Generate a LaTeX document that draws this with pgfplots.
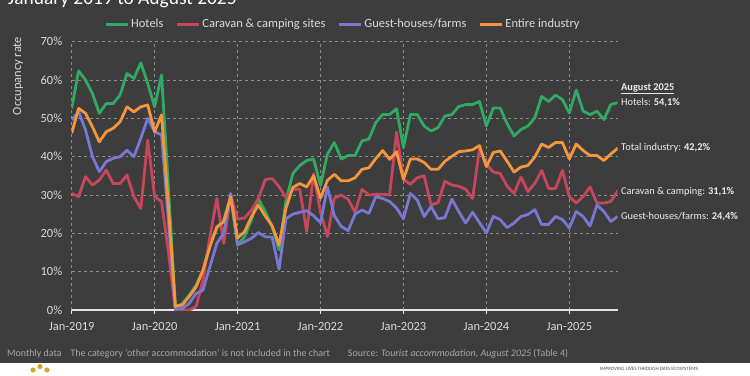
\documentclass[border=0pt]{standalone}
\usepackage{fontspec}
\setmainfont{Carlito}
\usepackage{pgfplots}
\pgfplotsset{compat=1.18}
\usepackage{pgfplotstable}
\definecolor{bg}{HTML}{3D3D3D}
\definecolor{cgreen}{HTML}{2EAA62}
\definecolor{cred}{HTML}{C8465A}
\definecolor{cpurple}{HTML}{7878D2}
\definecolor{corange}{HTML}{F5963C}
\definecolor{txt}{HTML}{D9D9D9}
\definecolor{gridc}{HTML}{8C8C8C}
\definecolor{foot}{HTML}{A6A6A6}
\definecolor{gold}{HTML}{D4A72C}

\pgfplotstableread{
m hot car gue ent
0 52.6 30.4 49.6 46.1
1 62.4 29.6 51.7 52.6
2 60.0 34.8 47.0 51.3
3 56.5 32.6 40.0 47.8
4 51.3 33.9 36.1 43.9
5 53.9 36.5 38.7 46.5
6 53.9 33.0 39.6 47.4
7 56.1 33.0 40.0 49.1
8 61.7 35.2 41.7 53.0
9 60.4 29.6 40.0 51.7
10 64.5 26.5 44.8 53.0
11 59.1 44.3 50.0 53.5
12 53.0 29.6 46.5 46.5
13 61.3 28.3 45.7 50.9
14 32.0 15.0 23.0 27.0
15 0.9 0.0 0.2 1.0
16 1.6 0.0 0.4 1.3
17 3.9 0.0 1.7 3.5
18 6.5 0.9 4.3 6.0
19 10.4 7.8 5.2 10.4
20 17.4 19.1 11.3 16.5
21 21.3 29.1 17.4 21.7
22 23.5 17.4 20.0 23.0
23 29.6 30.0 30.4 29.6
24 17.0 23.7 17.0 18.8
25 19.1 24.0 17.8 20.4
26 23.5 26.0 18.7 24.3
27 29.1 29.0 20.2 27.4
28 25.7 34.0 19.1 24.5
29 21.7 34.3 19.0 22.0
30 15.7 32.2 10.6 17.0
31 28.5 29.3 23.8 26.5
32 35.6 31.5 25.0 32.0
33 37.7 31.5 25.5 33.0
34 39.0 20.5 25.9 32.1
35 39.4 35.6 24.6 35.0
36 32.5 25.5 22.8 29.2
37 40.7 19.2 32.1 33.8
38 43.7 29.2 24.6 35.4
39 39.4 30.0 21.8 33.7
40 40.3 28.9 20.7 33.7
41 40.3 25.5 25.0 34.5
42 44.1 31.5 26.1 36.7
43 44.6 30.0 25.2 37.1
44 48.9 30.2 29.6 39.5
45 51.0 30.2 29.1 41.6
46 51.0 30.0 28.3 39.3
47 52.5 46.4 26.6 41.3
48 42.4 34.1 23.8 34.1
49 51.0 32.8 30.4 39.4
50 51.0 34.5 28.7 39.4
51 48.0 35.0 24.4 38.5
52 46.7 27.4 27.0 36.7
53 47.6 28.0 23.8 36.7
54 50.6 33.6 24.1 38.8
55 51.0 32.6 28.9 40.1
56 53.1 32.3 25.7 41.3
57 53.6 31.5 22.7 41.5
58 53.6 29.1 25.5 41.8
59 54.4 42.0 22.8 42.9
60 48.0 38.0 20.1 37.4
61 52.7 36.0 24.4 41.1
62 52.7 35.6 23.6 41.5
63 48.6 32.3 21.5 38.8
64 45.4 30.4 22.7 36.0
65 47.1 34.7 24.4 37.3
66 48.0 30.9 24.9 37.7
67 50.1 33.0 26.2 39.9
68 55.7 36.4 22.3 43.3
69 54.4 31.7 22.3 42.4
70 56.1 31.7 24.4 43.7
71 54.9 36.4 23.6 43.7
72 51.4 29.6 21.4 39.4
73 57.4 27.9 25.7 43.3
74 51.9 29.6 24.4 41.6
75 51.0 32.1 21.9 40.3
76 51.9 27.9 27.4 40.3
77 49.7 27.9 25.7 39.0
78 53.6 28.3 23.1 40.7
79 54.1 31.1 24.4 42.2
}\data

\begin{document}
\begin{tikzpicture}[x=1bp,y=1bp]
\useasboundingbox (0,0) rectangle (750,-375);
\fill[bg] (0,0) rectangle (750,-375);
\fill[white] (0,-363) rectangle (750,-375);
\node[anchor=base west, text=white, font=\fontsize{19.5}{22}\selectfont, inner sep=0] at (8,-4.5) {January 2019 to August 2025};
\node[rotate=90, text=txt, font=\fontsize{12.5}{14}\selectfont] at (18,-76) {Occupancy rate};

\begin{axis}[
  at={(71.7bp,-310bp)}, anchor=south west,
  scale only axis, width=546bp, height=268.3bp,
  xmin=0, xmax=79, ymin=0, ymax=70,
  axis line style={draw=none},
  axis x line*=bottom, axis y line*=left,
  x axis line style={draw=txt!80, line width=1.3bp},
  xtick={0,12,24,36,48,60,72},
  xticklabels={Jan-2019,Jan-2020,Jan-2021,Jan-2022,Jan-2023,Jan-2024,Jan-2025},
  ytick={0,10,...,70},
  yticklabel={\pgfmathprintnumber{\tick}\%},
  /pgf/number format/assume math mode=true,
  tick align=outside,
  major tick length=4bp,
  x tick style={draw=txt!80, line width=0.8bp},
  y tick style={draw=none},
  ymajorgrids, xmajorgrids,
  major grid style={draw=gridc, dashed, line width=0.7bp},
  ticklabel style={text=txt, font=\fontsize{12.5}{14}\selectfont},
  xticklabel style={yshift=-5bp},
  yticklabel style={xshift=-2bp},
  legend columns=4,
  legend style={at={(0.4966,1.066)}, anchor=center, draw=none, fill=none,
    text=txt, font=\fontsize{12.5}{14}\selectfont,
    /tikz/every even column/.append style={column sep=11bp},
    nodes={inner sep=1.5bp}},
  legend image code/.code={\draw[#1, line width=3bp] (0bp,0bp) -- (22bp,0bp);},
  every axis plot/.append style={line width=2.8bp, line join=round, no markers},
]
\addplot[cgreen] table[x=m, y=hot] {\data};
\addlegendentry{Hotels}
\addplot[cred] table[x=m, y=car] {\data};
\addlegendentry{Caravan \& camping sites}
\addplot[cpurple] table[x=m, y=gue] {\data};
\addlegendentry{Guest-houses/farms}
\addplot[corange] table[x=m, y=ent] {\data};
\addlegendentry{Entire industry}
\end{axis}

\begin{scope}[every node/.style={anchor=base west, inner sep=0, text=white!92!black, font=\fontsize{10.4}{12}\selectfont}]
\node at (621,-90.5) {\textbf{\underline{August 2025}}};
\node at (621,-105.5) {Hotels: \textbf{54,1\%}};
\node at (621,-150.5) {Total industry: \textbf{42,2\%}};
\node at (621,-194) {Caravan \& camping: \textbf{31,1\%}};
\node at (621,-219) {Guest-houses/farms: \textbf{24,4\%}};
\end{scope}

\node[anchor=base west, inner sep=0, text=foot, font=\fontsize{10}{12}\selectfont] at (7,-356)
  {Monthly data\hspace{9bp}The category `other accommodation' is not included in the chart\hspace{18bp}Source: \textit{Tourist accommodation, August 2025} (Table 4)};
\fill[gold] (33,-370) circle (2.6);
\fill[gold] (40,-366.5) circle (2.6);
\fill[gold] (47,-370) circle (2.6);
\node[anchor=base west, inner sep=0, text=black!70, font=\fontsize{5}{6}\selectfont] at (600,-370) {IMPROVING LIVES THROUGH DATA ECOSYSTEMS};
\end{tikzpicture}
\end{document}
